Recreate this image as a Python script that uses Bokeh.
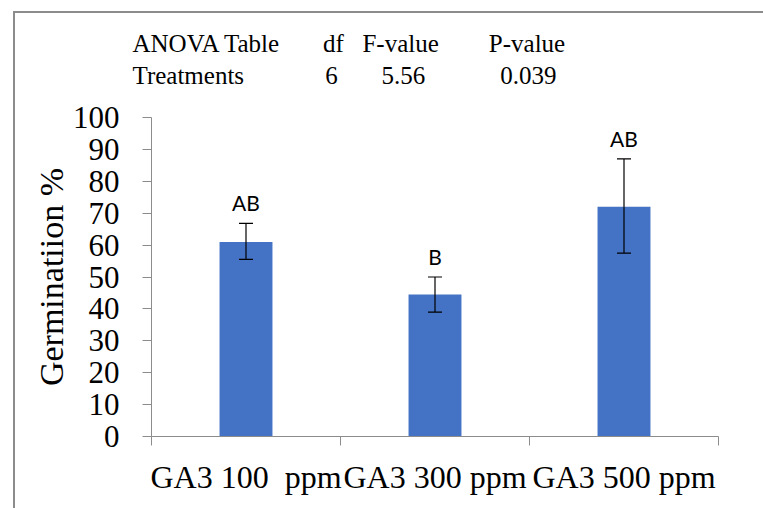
from bokeh.plotting import figure
from bokeh.models import Range1d, FixedTicker, Whisker, TeeHead, Title, ColumnDataSource
from bokeh.core.properties import value
from bokeh.embed import file_html
from bokeh.resources import INLINE

categories = ["GA3 100\u00a0 ppm", "GA3 300 ppm", "GA3 500 ppm"]
means = [61, 44.5, 72]
lower = [55.5, 39, 57.5]
upper = [66.8, 50, 87]
letters = ["AB", "B", "AB"]
y_ticks = list(range(0, 101, 10))

anova_header = ["ANOVA Table", "df", "F-value", "P-value"]
anova_row = ["Treatments", "6", "5.56", "0.039"]

centers = [i + 0.5 for i in range(len(categories))]
bounds = [i for i in range(len(categories) + 1)]

src = ColumnDataSource(dict(x=centers, top=means, lower=lower, upper=upper, letters=letters))

SERIF = "Liberation Serif"
GRAY = "#8c8c8c"
NB = "\u00a0"

def spaced(cells, gaps):
    out = cells[0]
    for c, g in zip(cells[1:], gaps):
        out += NB * g + c
    return out

p = figure(width=763, height=508, output_backend="svg", toolbar_location=None,
           x_range=Range1d(0, len(categories)), y_range=Range1d(0, 100),
           min_border_left=151, min_border_top=117, min_border_right=45, min_border_bottom=72,
           title=None)
p.stylesheets = [
    ":host::before { content: ''; position: absolute; left: 13px; top: 11px; width: 750px; height: 2px; "
    "background: #8c8c8c; pointer-events: none; z-index: 100; }",
    ":host::after { content: ''; position: absolute; left: 13px; top: 11px; width: 2px; height: 497px; "
    "background: #8c8c8c; pointer-events: none; z-index: 100; }",
]
p.outline_line_color = None
p.xgrid.grid_line_color = None
p.ygrid.grid_line_color = None

p.vbar(x="x", top="top", width=0.28, source=src, fill_color="#4472C4", line_color=None)
w = Whisker(base="x", lower="lower", upper="upper", source=src, line_color="black", line_width=1.2,
            lower_head=TeeHead(size=14, line_color="black", line_width=1.2),
            upper_head=TeeHead(size=14, line_color="black", line_width=1.2),
            level="overlay")
p.add_layout(w)
p.text(x="x", y="upper", text="letters", source=src, text_align="center", text_baseline="bottom",
       y_offset=-8, text_font=value("Lato"), text_font_size="21px", text_color="black")

p.yaxis.ticker = FixedTicker(ticks=y_ticks)
p.yaxis.axis_label = "Germinatiion %"
p.yaxis.axis_label_text_font = SERIF
p.yaxis.axis_label_text_font_size = "34px"
p.yaxis.axis_label_text_font_style = "normal"
p.yaxis.axis_label_text_color = "black"
p.yaxis.major_label_text_font = SERIF
p.yaxis.major_label_text_font_size = "31px"
p.yaxis.major_label_text_color = "black"
p.yaxis.major_label_standoff = 23
p.yaxis.axis_label_standoff = 0
p.yaxis.axis_line_color = GRAY
p.yaxis.major_tick_line_color = GRAY
p.yaxis.major_tick_in = 0
p.yaxis.major_tick_out = 9
p.yaxis.minor_tick_line_color = None

p.xaxis.ticker = FixedTicker(ticks=centers, minor_ticks=bounds)
p.xaxis.major_label_overrides = {c: lab for c, lab in zip(centers, categories)}
p.xaxis.major_label_text_font = SERIF
p.xaxis.major_label_text_font_size = "32px"
p.xaxis.major_label_text_color = "black"
p.xaxis.major_label_standoff = 13
p.xaxis.axis_line_color = GRAY
p.xaxis.major_tick_line_color = None
p.xaxis.minor_tick_line_color = GRAY
p.xaxis.minor_tick_in = 0
p.xaxis.minor_tick_out = 9

# ANOVA table as title lines above the plot (first added = nearest the frame)
title_style = dict(align="left", offset=-19, text_font=SERIF, text_font_size="25px",
                   text_font_style="normal", text_color="black")
spacer = Title(text=NB, standoff=0, **title_style)
t_row = Title(text=spaced(anova_row, [13, 7, 12]), standoff=0, **title_style)
t_head = Title(text=spaced(anova_header, [7, 3, 8]), standoff=5, **title_style)
p.add_layout(spacer, "above")
p.add_layout(t_row, "above")
p.add_layout(t_head, "above")

open("out.html", "w").write(file_html(p, INLINE))
